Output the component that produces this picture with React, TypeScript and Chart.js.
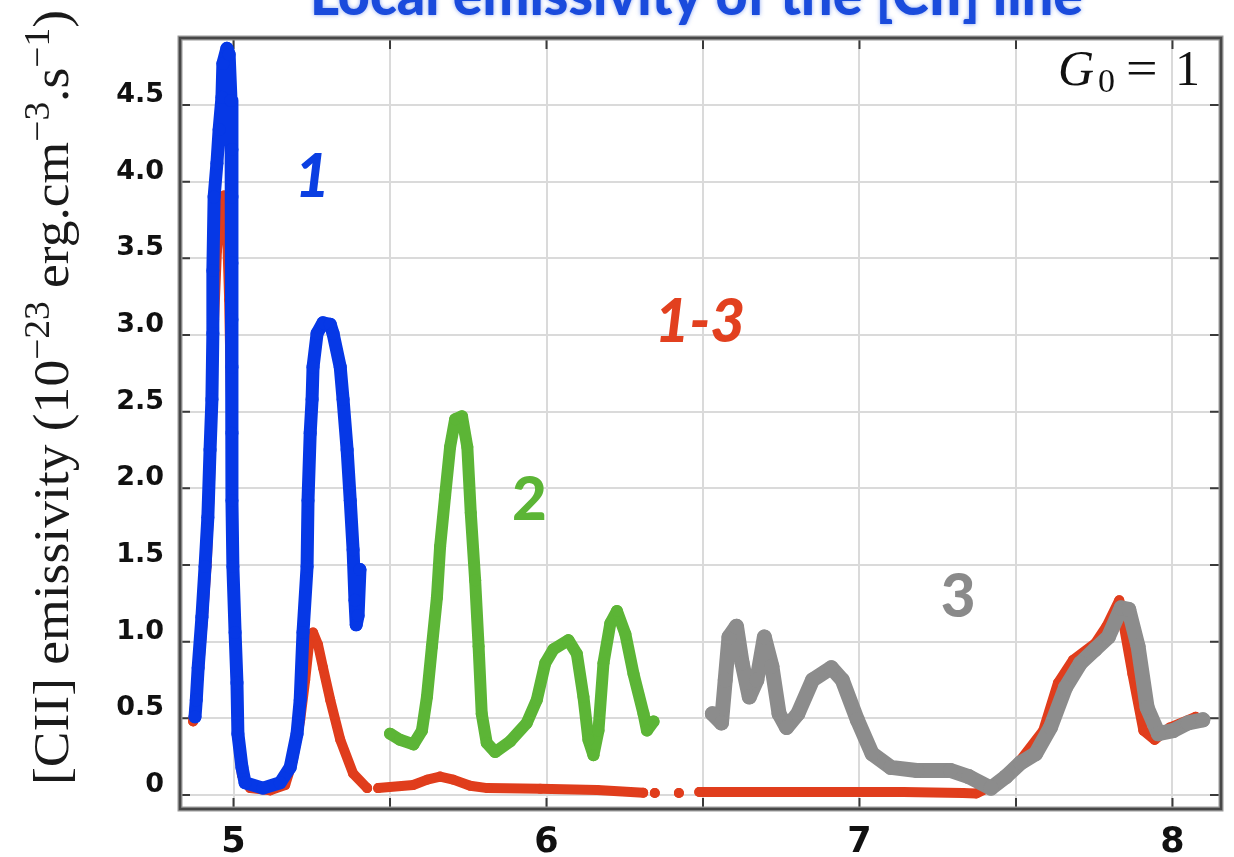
import { useEffect, useRef } from 'react';
import { Chart, registerables } from 'chart.js';

Chart.register(...registerables);

type Pt = [number, number | null];

// Local [CII] emissivity (1e-23 erg cm^-3 s^-1) versus depth, G0 = 1

// Profile "1"
const profile1: Pt[] = [
  [4.877, 0.51], [4.881, 0.62], [4.887, 0.83], [4.899, 1.16], [4.909, 1.49], [4.918, 1.81],
  [4.925, 2.25], [4.931, 2.58], [4.934, 3.01], [4.934, 3.42], [4.938, 3.9], [4.947, 4.12],
  [4.954, 4.34], [4.963, 4.55], [4.966, 4.77], [4.979, 4.87], [4.986, 4.83], [4.992, 4.53],
  [4.995, 4.21], [4.995, 3.9], [4.995, 3.47], [4.995, 3.1], [4.995, 2.79], [4.995, 2.36],
  [4.995, 1.92], [4.998, 1.49], [5.005, 1.06], [5.011, 0.73], [5.014, 0.4], [5.027, 0.18],
  [5.037, 0.08], [5.094, 0.045], [5.149, 0.08], [5.181, 0.18], [5.203, 0.4], [5.213, 0.62],
  [5.222, 1.06], [5.235, 1.49], [5.238, 1.92], [5.245, 2.36], [5.251, 2.58], [5.254, 2.79],
  [5.267, 3.01], [5.286, 3.08], [5.309, 3.07], [5.318, 3.01], [5.341, 2.79], [5.35, 2.58],
  [5.363, 2.25], [5.373, 1.92], [5.382, 1.6], [5.388, 1.27], [5.392, 1.11], [5.398, 1.17],
  [5.404, 1.47],
];

// Profile "1-3" (gaps where the sampling has holes)
const profile13: Pt[] = [
  [4.871, 0.48], [4.887, 0.75], [4.902, 1.14], [4.915, 1.53], [4.925, 2.05], [4.931, 2.58],
  [4.938, 3.1], [4.947, 3.55], [4.96, 3.88], [4.97, 3.91], [4.979, 3.69], [4.986, 3.23],
  [4.992, 2.58], [4.995, 1.92], [5.002, 1.27], [5.008, 0.75], [5.014, 0.36], [5.027, 0.13],
  [5.053, 0.045], [5.117, 0.03], [5.165, 0.065], [5.19, 0.23], [5.213, 0.49], [5.229, 0.75],
  [5.241, 0.98], [5.254, 1.06], [5.27, 0.98], [5.286, 0.83], [5.309, 0.62], [5.341, 0.36],
  [5.382, 0.14], [5.427, 0.045],
  [5.445, null],
  [5.462, 0.045], [5.574, 0.065], [5.619, 0.1], [5.66, 0.12], [5.702, 0.1], [5.756, 0.06],
  [5.811, 0.045], [5.98, 0.04], [6.162, 0.033], [6.309, 0.015],
  [6.33, null],
  [6.346, 0.013],
  [6.38, null],
  [6.423, 0.013],
  [6.455, null],
  [6.488, 0.02], [6.82, 0.02], [7.14, 0.02], [7.33, 0.013], [7.373, 0.01], [7.444, 0.08],
  [7.515, 0.23], [7.587, 0.42], [7.634, 0.73], [7.682, 0.88], [7.753, 0.99], [7.789, 1.1],
  [7.83, 1.27], [7.872, 0.79], [7.907, 0.42], [7.943, 0.36], [7.991, 0.44], [8.074, 0.51],
];

// Profile "2"
const profile2: Pt[] = [
  [5.5, 0.4], [5.532, 0.36], [5.575, 0.33], [5.602, 0.42], [5.618, 0.64], [5.634, 0.97],
  [5.65, 1.29], [5.66, 1.62], [5.676, 1.95], [5.692, 2.27], [5.708, 2.45], [5.73, 2.47],
  [5.747, 2.27], [5.758, 1.84], [5.772, 1.4], [5.783, 0.97], [5.793, 0.53], [5.809, 0.34],
  [5.836, 0.28], [5.884, 0.35], [5.937, 0.47], [5.969, 0.62], [5.996, 0.86], [6.022, 0.95],
  [6.07, 1.01], [6.097, 0.92], [6.118, 0.64], [6.134, 0.36], [6.15, 0.26], [6.166, 0.42],
  [6.182, 0.86], [6.204, 1.12], [6.225, 1.2], [6.252, 1.05], [6.278, 0.79], [6.31, 0.53],
  [6.321, 0.42], [6.342, 0.48],
];

// Profile "3"
const profile3: Pt[] = [
  [6.53, 0.53], [6.559, 0.47], [6.571, 0.75], [6.583, 1.03], [6.607, 1.1], [6.625, 0.86],
  [6.648, 0.64], [6.672, 0.75], [6.696, 1.03], [6.72, 0.84], [6.743, 0.53], [6.767, 0.44],
  [6.803, 0.53], [6.85, 0.75], [6.91, 0.83], [6.945, 0.75], [6.993, 0.49], [7.04, 0.27],
  [7.1, 0.18], [7.183, 0.16], [7.29, 0.16], [7.349, 0.12], [7.42, 0.045], [7.468, 0.12],
  [7.515, 0.21], [7.563, 0.27], [7.61, 0.44], [7.658, 0.7], [7.706, 0.86], [7.753, 0.95],
  [7.795, 1.03], [7.836, 1.22], [7.86, 1.21], [7.89, 0.97], [7.919, 0.57], [7.955, 0.4],
  [8.002, 0.42], [8.05, 0.47], [8.097, 0.49],
];

const xGridValues = [5, 5.5, 6, 6.5, 7, 7.5, 8];
const yGridValues = [0, 0.5, 1, 1.5, 2, 2.5, 3, 3.5, 4, 4.5];
const xTickValues = [5, 6, 7, 8];
const xTickLabels = ['5', '6', '7', '8'];
const yTickLabels = ['0', '0.5', '1.0', '1.5', '2.0', '2.5', '3.0', '3.5', '4.0', '4.5'];

const chartTitle = 'Local emissivity of the [CII] line';
const yTitleParts = [
  { text: '[CII] emissivity (10', sup: false },
  { text: '\u221223', sup: true },
  { text: ' erg.cm', sup: false },
  { text: '\u22123', sup: true },
  { text: '.s', sup: false },
  { text: '\u22121', sup: true },
  { text: ')', sup: false },
];

const BLUE = '#0638e6';
const RED = '#e03d1c';
const GREEN = '#5cb536';
const GRAY = '#8c8c8c';

// Curve names, anchored in data coordinates (centre x, baseline y)
const curveLabels = [
  { text: '1', x: 5.252, y: 3.9, color: '#0b3fe2', italic: true },
  { text: '1-3', x: 6.49, y: 2.955, color: '#e2401f', italic: true },
  { text: '2', x: 5.945, y: 1.794, color: '#5cb536', italic: false },
  { text: '3', x: 7.315, y: 1.161, color: '#8a8a8a', italic: false },
];

const toData = (pts: Pt[]) => pts.map(([x, y]) => ({ x, y }));

const decorations = {
  id: 'decorations',
  beforeDatasetsDraw(chart: any) {
    const { ctx, chartArea: a, scales } = chart;
    const xs = scales.x;
    const ys = scales.y;
    ctx.save();
    ctx.strokeStyle = '#3a3a3a';
    ctx.lineWidth = 2;
    ctx.beginPath();
    for (const v of xGridValues) {
      const px = xs.getPixelForValue(v);
      ctx.moveTo(px, a.top);
      ctx.lineTo(px, a.top + 11);
      ctx.moveTo(px, a.bottom);
      ctx.lineTo(px, a.bottom - 11);
    }
    for (const v of yGridValues) {
      const py = ys.getPixelForValue(v);
      ctx.moveTo(a.left - 2, py);
      ctx.lineTo(a.left + 10, py);
      ctx.moveTo(a.right, py);
      ctx.lineTo(a.right - 11, py);
    }
    ctx.stroke();
    ctx.restore();
  },
  afterDatasetsDraw(chart: any) {
    const { ctx, scales } = chart;
    ctx.save();
    ctx.textAlign = 'center';
    ctx.textBaseline = 'alphabetic';
    for (const l of curveLabels) {
      ctx.font = `${l.italic ? 'italic ' : ''}900 60px Lato`;
      ctx.fillStyle = l.color;
      ctx.fillText(l.text, scales.x.getPixelForValue(l.x), scales.y.getPixelForValue(l.y));
    }
    ctx.restore();
  },
  afterDraw(chart: any) {
    const { ctx, chartArea: a, scales } = chart;
    const xs = scales.x;
    const ys = scales.y;
    ctx.save();

    // plot frame
    ctx.strokeStyle = '#9a9a9a';
    ctx.lineWidth = 5;
    ctx.strokeRect(a.left, a.top, a.right - a.left, a.bottom - a.top);
    ctx.strokeStyle = '#474747';
    ctx.lineWidth = 2.5;
    ctx.strokeRect(a.left, a.top, a.right - a.left, a.bottom - a.top);

    // tick labels
    ctx.fillStyle = '#111';
    ctx.textBaseline = 'alphabetic';
    ctx.font = 'bold 27px "DejaVu Sans"';
    ctx.textAlign = 'right';
    yGridValues.forEach((v, i) => {
      ctx.fillText(yTickLabels[i], a.left - 16, ys.getPixelForValue(v) - 3);
    });
    ctx.font = 'bold 35px "DejaVu Sans"';
    ctx.textAlign = 'center';
    xTickValues.forEach((v, i) => {
      ctx.fillText(xTickLabels[i], xs.getPixelForValue(v), a.bottom + 43);
    });

    // G0 = 1
    ctx.textAlign = 'left';
    const gb = a.top + 47;
    ctx.font = 'italic 50px "Liberation Serif"';
    ctx.fillText('G', a.right - 163, gb);
    ctx.font = '34px "Liberation Serif"';
    ctx.fillText('0', a.right - 123, gb + 7);
    ctx.font = '50px "Liberation Serif"';
    ctx.save();
    ctx.translate(a.right - 95, gb);
    ctx.scale(1.12, 1);
    ctx.fillText('=', 0, 0);
    ctx.restore();
    ctx.fillText('1', a.right - 46, gb);
    ctx.restore();

    // y-axis title, rotated, with superscripts
    ctx.save();
    ctx.fillStyle = '#1a1a1a';
    ctx.textAlign = 'left';
    ctx.textBaseline = 'alphabetic';
    const fonts = yTitleParts.map((p) => (p.sup ? '35px "Liberation Serif"' : '50px "Liberation Serif"'));
    const widths = yTitleParts.map((p, i) => {
      ctx.font = fonts[i];
      return ctx.measureText(p.text).width;
    });
    const total = widths.reduce((s, w) => s + w, 0);
    ctx.translate(68, a.bottom - 24);
    ctx.rotate(-Math.PI / 2);
    ctx.scale(775 / total, 1);
    let cx = 0;
    yTitleParts.forEach((p, i) => {
      ctx.font = fonts[i];
      ctx.fillText(p.text, cx, p.sup ? -19 : 0);
      cx += widths[i];
    });
    ctx.restore();

    // chart title, clipped by the top edge
    ctx.save();
    ctx.font = '900 58px Lato';
    const tw = ctx.measureText(chartTitle).width;
    ctx.fillStyle = '#1a4bdc';
    ctx.shadowColor = 'rgba(40, 90, 230, 0.55)';
    ctx.shadowBlur = 4;
    ctx.textAlign = 'center';
    ctx.textBaseline = 'alphabetic';
    ctx.translate(696.5, 15);
    ctx.scale(773 / tw, 1);
    ctx.fillText(chartTitle, 0, 0);
    ctx.restore();
  },
};

export default function App() {
  const ref = useRef<HTMLCanvasElement>(null);

  useEffect(() => {
    document.body.style.margin = '0';
    const canvas = ref.current;
    if (!canvas) return;

    const series = (pts: Pt[], color: string, width: number, radius: number, order: number) => ({
      data: toData(pts),
      borderColor: color,
      backgroundColor: color,
      borderWidth: width,
      borderCapStyle: 'round' as const,
      borderJoinStyle: 'round' as const,
      pointRadius: radius,
      pointBorderWidth: 0,
      pointHoverRadius: radius,
      spanGaps: false,
      tension: 0,
      order,
    });

    const chart = new Chart(canvas, {
      type: 'line',
      data: {
        datasets: [
          series(profile1, BLUE, 13, 6.5, 0),
          series(profile3, GRAY, 15, 7.5, 1),
          series(profile2, GREEN, 12, 6, 2),
          series(profile13, RED, 10, 5, 3),
        ],
      },
      options: {
        animation: false,
        responsive: false,
        events: [],
        layout: { padding: { top: 38, right: 13, left: 0, bottom: 0 } },
        plugins: {
          legend: { display: false },
          title: { display: false },
          tooltip: { enabled: false },
        },
        scales: {
          x: {
            type: 'linear',
            min: 4.829,
            max: 8.155,
            afterFit: (s: any) => {
              s.height = 48;
            },
            afterBuildTicks: (s: any) => {
              s.ticks = xGridValues.map((value) => ({ value }));
            },
            ticks: { display: false },
            grid: { color: '#dadada', lineWidth: 2, drawTicks: false },
            border: { display: false },
          },
          y: {
            type: 'linear',
            min: -0.0913,
            max: 4.937,
            afterFit: (s: any) => {
              s.width = 180;
            },
            afterBuildTicks: (s: any) => {
              s.ticks = yGridValues.map((value) => ({ value }));
            },
            ticks: { display: false },
            grid: { color: '#dadada', lineWidth: 2, drawTicks: false },
            border: { display: false },
          },
        },
      },
      plugins: [decorations],
    });

    return () => chart.destroy();
  }, []);

  return (
    <div style={{ width: 1234, height: 857, background: '#fff' }}>
      <canvas ref={ref} width={1234} height={857} style={{ display: 'block' }} />
    </div>
  );
}
